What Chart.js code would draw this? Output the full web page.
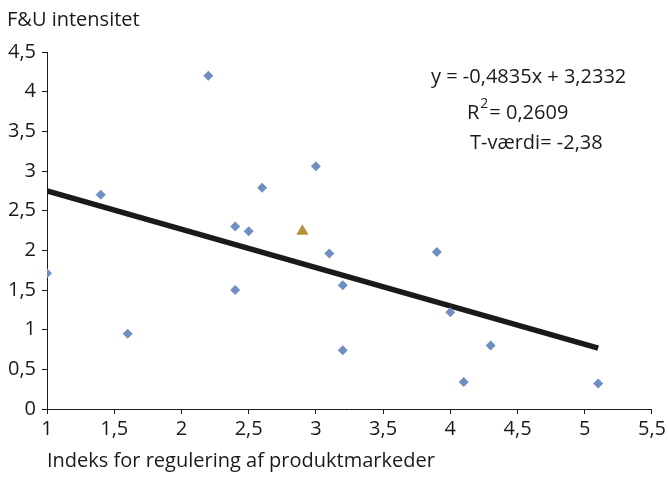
<!DOCTYPE html>
<html>
<head>
<meta charset="utf-8">
<script src="https://cdn.jsdelivr.net/npm/chart.js@4"></script>
<style>
  html, body { margin: 0; padding: 0; background: #ffffff; }
  #wrap { width: 669px; height: 489px; }
</style>
</head>
<body>
<div id="wrap"><canvas id="scatter"></canvas></div>
<script>
// Country observations: product market regulation index vs. R&D intensity
const regIndex = [1.0, 1.4, 2.2, 2.6, 3.0, 2.4, 2.5, 3.1, 3.9, 2.4, 3.2, 4.0, 1.6, 3.2, 4.3, 4.1, 5.1];
const rdIntensity = [1.71, 2.70, 4.20, 2.79, 3.06, 2.30, 2.24, 1.96, 1.98, 1.50, 1.56, 1.22, 0.95, 0.74, 0.80, 0.34, 0.32];

// Highlighted observation (Denmark)
const dkIndex = [2.9];
const dkIntensity = [2.24];

// Linear trend y = a*x + b, drawn over the observed range
const trendSlope = -0.4835;
const trendIntercept = 3.2332;
const trendRange = [1.0, 5.1];

const xTicks = [1, 1.5, 2, 2.5, 3, 3.5, 4, 4.5, 5, 5.5];
const yTicks = [0, 0.5, 1, 1.5, 2, 2.5, 3, 3.5, 4, 4.5];

const statLines = ['y = -0,4835x + 3,2332', 'R2= 0,2609', 'T-værdi= -2,38'];

const FONT = '"Open Sans", "Noto Sans", sans-serif';
const INK = '#1a1a1a';
const TXT = 20;

function commaNum(v) {
    return String(v).replace('.', ',');
}

function toPoints(xs, ys) {
    return xs.map(function (x, i) { return { x: x, y: ys[i] }; });
}

// Regression statistics text in the upper right
const statsPlugin = {
    id: 'statsText',
    afterDatasetsDraw: function (chart) {
        const ctx = chart.ctx;
        ctx.save();
        ctx.fillStyle = INK;
        ctx.font = TXT + 'px ' + FONT;
        ctx.textBaseline = 'middle';
        ctx.textAlign = 'left';
        ctx.fillText(statLines[0], 431, 77);
        // R² with raised 2
        let x = 467;
        ctx.fillText('R', x, 113);
        x += ctx.measureText('R').width;
        ctx.font = '14px ' + FONT;
        ctx.fillText('2', x + 1, 104);
        x += ctx.measureText('2').width + 2;
        ctx.font = TXT + 'px ' + FONT;
        ctx.fillText(statLines[1].slice(2), x, 113);
        ctx.fillText(statLines[2], 470, 143);
        ctx.restore();
    }
};

const ctx = document.getElementById('scatter').getContext('2d');
const chart = new Chart(ctx, {
    type: 'scatter',
    data: {
        datasets: [{
            label: 'Lande',
            data: toPoints(regIndex, rdIntensity),
            pointStyle: 'rectRot',
            pointRadius: 5,
            backgroundColor: '#6f8fc2',
            borderColor: '#6f8fc2',
            borderWidth: 0,
            order: 2
        }, {
            label: 'Danmark',
            data: toPoints(dkIndex, dkIntensity),
            pointStyle: 'triangle',
            pointRadius: 7,
            backgroundColor: '#b8903c',
            borderColor: '#b8903c',
            borderWidth: 0,
            order: 1
        }, {
            label: 'Trend',
            type: 'line',
            data: trendRange.map(function (x) { return { x: x, y: trendSlope * x + trendIntercept }; }),
            borderColor: INK,
            borderWidth: 5.5,
            pointRadius: 0,
            fill: false,
            order: 3
        }]
    },
    options: {
        responsive: true,
        maintainAspectRatio: false,
        animation: false,
        layout: { padding: { left: 7, right: 3, top: 0, bottom: 16 } },
        plugins: {
            legend: { display: false },
            tooltip: { enabled: false },
            title: {
                display: true,
                text: 'F&U intensitet',
                align: 'start',
                color: INK,
                font: { family: FONT, size: TXT, weight: 'normal' },
                padding: { top: 8, bottom: 20 }
            }
        },
        scales: {
            x: {
                type: 'linear',
                min: 1,
                max: 5.5,
                afterBuildTicks: function (axis) {
                    axis.ticks = xTicks.map(function (v) { return { value: v }; });
                },
                grid: { display: true, drawOnChartArea: false, drawTicks: true, tickLength: 5, color: INK },
                border: { color: INK, width: 1 },
                ticks: {
                    color: INK,
                    padding: 3,
                    maxRotation: 0,
                    font: { family: FONT, size: TXT },
                    callback: function (v) { return commaNum(v); }
                },
                title: {
                    display: true,
                    text: 'Indeks for regulering af produktmarkeder',
                    align: 'start',
                    color: INK,
                    font: { family: FONT, size: TXT },
                    padding: { top: 5, bottom: 0 }
                }
            },
            y: {
                type: 'linear',
                min: 0,
                max: 4.5,
                afterBuildTicks: function (axis) {
                    axis.ticks = yTicks.map(function (v) { return { value: v }; });
                },
                afterFit: function (axis) {
                    axis.width = 40;
                },
                grid: { display: true, drawOnChartArea: false, drawTicks: true, tickLength: 5, color: INK },
                border: { color: INK, width: 1 },
                ticks: {
                    color: INK,
                    padding: 6,
                    font: { family: FONT, size: TXT },
                    callback: function (v) { return commaNum(v); }
                }
            }
        }
    },
    plugins: [statsPlugin]
});
</script>
</body>
</html>
